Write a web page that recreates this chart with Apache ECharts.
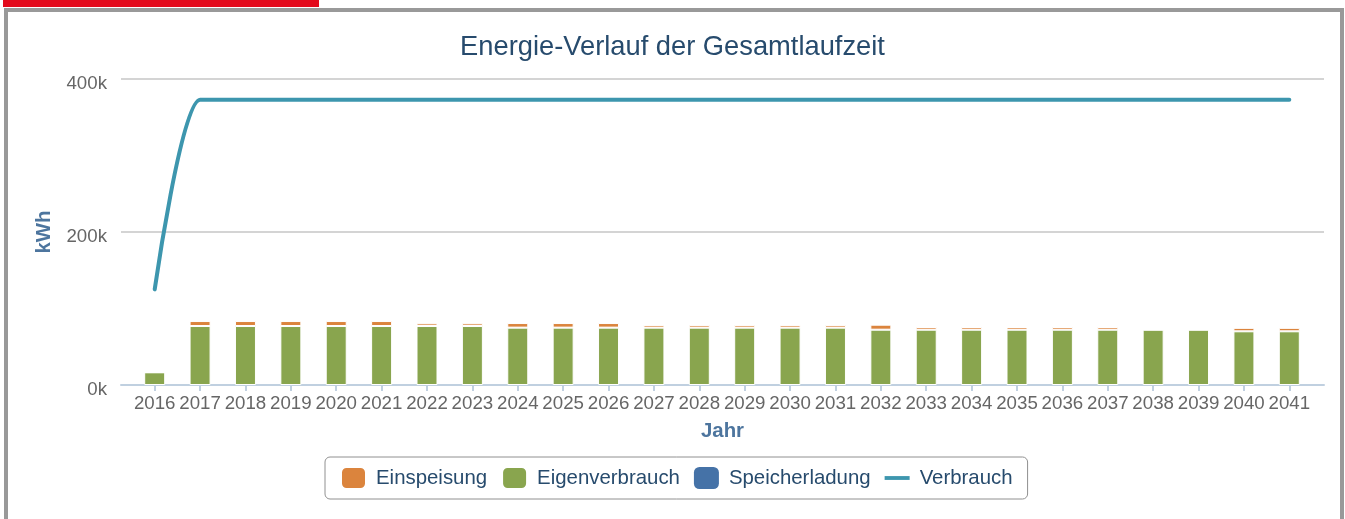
<!DOCTYPE html>
<html>
<head>
<meta charset="utf-8">
<script src="https://cdn.jsdelivr.net/npm/echarts@6/dist/echarts.min.js"></script>
<style>
  html, body { margin: 0; padding: 0; background: #fff; width: 1345px; height: 519px; overflow: hidden; }
  #redbar { position: absolute; left: 3px; top: 0; width: 316px; height: 7px; background: #E30A1C; }
  #panel { position: absolute; left: 4px; top: 8px; width: 1332px; height: 530px; border: 4px solid #999; background: #fff; }
  #chart { position: absolute; left: 0; top: 0; width: 1345px; height: 519px; }
</style>
</head>
<body>
<div id="redbar"></div>
<div id="panel"></div>
<div id="chart"></div>
<script>
const titleText = 'Energie-Verlauf der Gesamtlaufzeit';
const years = ['2016','2017','2018','2019','2020','2021','2022','2023','2024','2025','2026','2027','2028',
               '2029','2030','2031','2032','2033','2034','2035','2036','2037','2038','2039','2040','2041'];
const einspeisung = [0, 6500, 6500, 6500, 6500, 6500, 3500, 3500, 6000, 6000, 6000, 3500, 3500,
                     3500, 3500, 3500, 6500, 3500, 3500, 3500, 3500, 3500, 0, 0, 4500, 4500];
const eigenverbrauch = [16600, 77100, 77100, 77100, 77100, 77100, 77100, 77100, 75000, 75000, 75000, 75000, 75000,
                        75000, 75000, 75000, 72300, 72300, 72300, 72300, 72300, 72300, 72300, 72300, 70200, 70200];
const speicherladung = [0, 0, 0, 0, 0, 0, 0, 0, 0, 0, 0, 0, 0,
                        0, 0, 0, 0, 0, 0, 0, 0, 0, 0, 0, 0, 0];
const verbrauch = [125000, 373000, 373000, 373000, 373000, 373000, 373000, 373000, 373000, 373000, 373000, 373000, 373000,
                   373000, 373000, 373000, 373000, 373000, 373000, 373000, 373000, 373000, 373000, 373000, 373000, 373000];
const yTicks = { min: 0, max: 400000, interval: 200000 };

const FONT = "'Liberation Sans', Arial, Helvetica, sans-serif";
const chart = echarts.init(document.getElementById('chart'), null, { renderer: 'canvas' });

chart.setOption({
  backgroundColor: 'transparent',
  animation: false,
  title: {
    text: titleText,
    left: 'center',
    top: 29,
    textStyle: { color: '#274b6d', fontSize: 27.3, fontWeight: 'normal', fontFamily: FONT }
  },
  legend: {
    left: 325,
    top: 457,
    padding: [9, 15],
    itemWidth: 25,
    itemHeight: 22,
    itemGap: 14,
    borderColor: '#909090',
    borderWidth: 1,
    borderRadius: 5,
    textStyle: { color: '#274b6d', fontSize: 20.4, fontFamily: FONT, padding: [0, 0, 0, 5] },
    data: [
      { name: 'Einspeisung', icon: 'roundRect' },
      { name: 'Eigenverbrauch', icon: 'roundRect' },
      { name: 'Speicherladung', icon: 'roundRect' },
      { name: 'Verbrauch', icon: 'path://M0,0h26v4h-26z' }
    ]
  },
  grid: [
    { left: 121, right: 21, top: 79, bottom: 134 },
    { left: 132, right: 33, top: 79, bottom: 134 }
  ],
  xAxis: [
    {
      gridIndex: 0, type: 'value', min: 0, max: 1,
      axisLine: { show: true, lineStyle: { color: '#C0D0E0', width: 2 } },
      axisTick: { show: false }, axisLabel: { show: false }, splitLine: { show: false },
      name: 'Jahr', nameLocation: 'middle', nameGap: 36,
      nameTextStyle: { color: '#4d759e', fontSize: 20.4, fontWeight: 'bold', fontFamily: FONT }
    },
    {
      gridIndex: 1, type: 'category', data: years, boundaryGap: true,
      axisLine: { show: false },
      axisTick: { show: true, alignWithLabel: true, length: 6, lineStyle: { color: '#C0D0E0', width: 2 } },
      axisLabel: { color: '#666', fontSize: 18.7, fontFamily: FONT, margin: 9, interval: 0 }
    }
  ],
  yAxis: [
    {
      gridIndex: 0, type: 'value', min: yTicks.min, max: yTicks.max, interval: yTicks.interval,
      axisLine: { show: false }, axisTick: { show: false },
      axisLabel: { color: '#666', fontSize: 18.7, fontFamily: FONT, margin: 14,
                   verticalAlign: 'top', lineHeight: 9,
                   formatter: v => (v / 1000) + 'k' },
      splitLine: { show: true, lineStyle: { color: '#C6C6C6', width: 1.5 } },
      name: 'kWh', nameLocation: 'middle', nameGap: 67, nameRotate: 90,
      nameTextStyle: { color: '#4d759e', fontSize: 20.4, fontWeight: 'bold', fontFamily: FONT }
    },
    {
      gridIndex: 1, type: 'value', min: yTicks.min, max: yTicks.max, interval: yTicks.interval, show: false,
      splitLine: { show: false }
    }
  ],
  series: [
    {
      name: 'Speicherladung', type: 'bar', stack: 'total', xAxisIndex: 1, yAxisIndex: 1,
      data: speicherladung, barWidth: 21, color: '#4572A7',
      itemStyle: { color: '#4572A7', borderWidth: 0 }
    },
    {
      name: 'Eigenverbrauch', type: 'bar', stack: 'total', xAxisIndex: 1, yAxisIndex: 1,
      data: eigenverbrauch, barWidth: 21, color: '#89A54E',
      itemStyle: { color: '#89A54E', borderColor: '#ffffff', borderWidth: 1 }
    },
    {
      name: 'Einspeisung', type: 'bar', stack: 'total', xAxisIndex: 1, yAxisIndex: 1,
      data: einspeisung, barWidth: 21, color: '#DB843D',
      itemStyle: { color: '#DB843D', borderColor: '#ffffff', borderWidth: 1 }
    },
    {
      name: 'Verbrauch', type: 'line', xAxisIndex: 1, yAxisIndex: 1,
      data: verbrauch, color: '#3D96AE', smooth: 0.4, smoothMonotone: 'x',
      showSymbol: false, symbol: 'none', z: 5,
      lineStyle: { color: '#3D96AE', width: 4, cap: 'round', join: 'round' }
    }
  ]
});
</script>
</body>
</html>
